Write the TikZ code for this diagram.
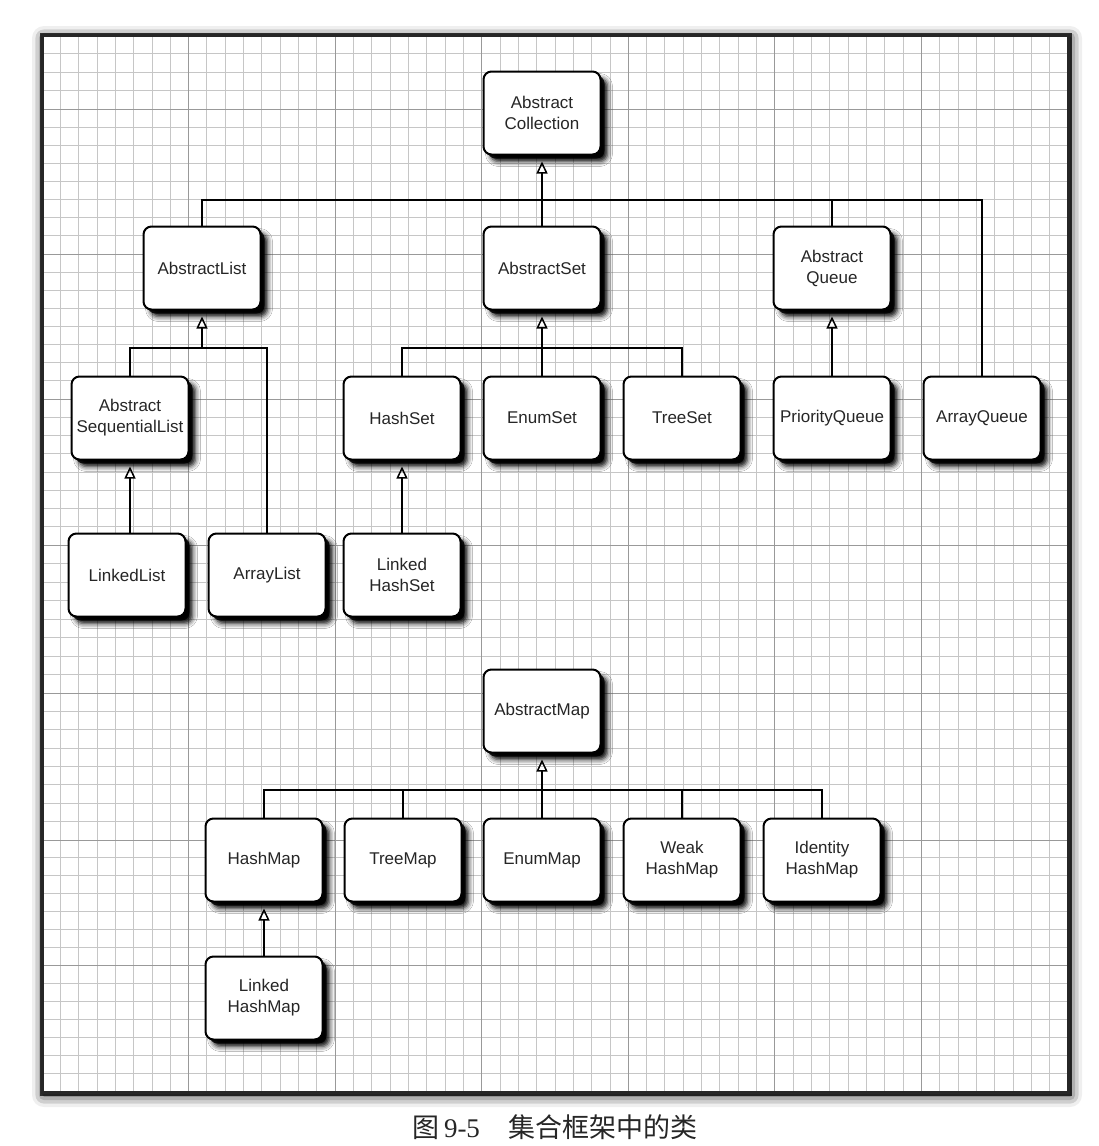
\documentclass[tikz,border=0pt]{standalone}
\usepackage{fontspec}
\setmainfont{Liberation Sans}
\newfontfamily\cjk{Noto Sans CJK SC}
\newfontfamily\capserif{Liberation Serif}
\usetikzlibrary{arrows.meta,positioning,shadows,shadows.blur}

\begin{document}
\begin{tikzpicture}[x=0.5pt,y=-0.5pt]
                \tikzstyle{cls} = [draw, line width=1pt, rounded corners=4pt, fill=white, minimum width=58.5pt, minimum height=41.5pt, inner sep=1pt, align=center, text=black!85, font=\fontsize{8.5}{10.5}\selectfont, blur shadow={shadow xshift=3.5pt, shadow yshift=-3.5pt, shadow blur radius=2.5pt, shadow opacity=100}, drop shadow={shadow xshift=2pt, shadow yshift=-2pt, fill=black, opacity=0.85}]
                \tikzstyle{link} = [line width=0.75pt]
                \tikzstyle{inherit} = [link, -{Triangle[open, length=6pt, width=5.5pt]}, shorten >=3pt]
                \tikzstyle{minor} = [gray!45, line width=0.4pt]
                \tikzstyle{major} = [gray!80, line width=0.5pt]
                \useasboundingbox (0,0) rectangle (1098,1146);

                % paper with grid
                \draw [fill=white, draw=black!85, line width=1.5pt, blur shadow={shadow xshift=1pt, shadow yshift=-1.5pt, shadow blur radius=6pt, shadow opacity=100}, drop shadow={shadow xshift=0.5pt, shadow yshift=-0.5pt, shadow scale=1.006, fill=black, opacity=0.75}] (42,35) rectangle (1068,1092);
                \foreach \x in {1,...,55} \draw [minor] (42+\x*18.32,35) -- (42+\x*18.32,1092);
                \foreach \a/\b/\n in {35/109/4, 109/254/8, 254/399/8, 399/545/8, 545/693/8, 693/840/8, 840/965/7, 965/1092/7}
                    \foreach \i in {1,...,\n} \draw [minor] (42,{\a+(\b-\a)*\i/\n}) -- (1068,{\a+(\b-\a)*\i/\n});
                \foreach \x in {1,...,6} \draw [major] (42+\x*146.57,35) -- (42+\x*146.57,1092);
                \foreach \y in {109,254,399,545,693,840,965} \draw [major] (42,\y) -- (1068,\y);
                \draw [draw=black!85, line width=1.5pt] (42,35) rectangle (1068,1092);

                % collections
                \node [cls] (coll) at (542,113) {Abstract\\Collection};
                \node [cls, below=35pt of coll] (aset) {AbstractSet};
                \node [cls, left=110.5pt of aset] (alist) {AbstractList};
                \node [cls, right=85.5pt of aset] (aqueue) {Abstract\\Queue};
                \node [cls, below=32.5pt of aset] (enumset) {EnumSet};
                \node [cls, left=10.5pt of enumset] (hashset) {HashSet};
                \node [cls, right=10.5pt of enumset] (treeset) {TreeSet};
                \node [cls, below=32.5pt of aqueue] (prio) {PriorityQueue};
                \node [cls, right=15.5pt of prio] (arrqueue) {ArrayQueue};
                \node [cls, left=76.5pt of hashset] (seqlist) {Abstract\\SequentialList};
                \node [cls, below=36pt of hashset] (lhashset) {Linked\\HashSet};
                \node [cls, left=8pt of lhashset] (arrlist) {ArrayList};
                \node [cls, left=10.5pt of arrlist] (llist) {LinkedList};

                % maps
                \node [cls, below=104pt of enumset] (amap) {AbstractMap};
                \node [cls, below=32pt of amap] (enummap) {EnumMap};
                \node [cls, left=10pt of enummap] (treemap) {TreeMap};
                \node [cls, left=10pt of treemap] (hashmap) {HashMap};
                \node [cls, right=10.5pt of enummap] (weakmap) {Weak\\HashMap};
                \node [cls, right=10.5pt of weakmap] (idmap) {Identity\\HashMap};
                \node [cls, below=26.5pt of hashmap] (lhashmap) {Linked\\HashMap};

                \node [font=\fontsize{13.5}{16}\selectfont, text=black!85] (caption) at (555,1127) {{\cjk 图}\hspace{2.5pt}{\capserif 9-5}\hspace{14.5pt}{\cjk 集合框架中的类}};

                \coordinate (bus1) at (542,200);
                \coordinate (bus2) at (0,348);
                \coordinate (bus3) at (0,790);

                \draw [link] (alist.north) |- (bus1) -| (arrqueue.north);
                \draw [link] (aqueue.north) -- (aqueue.north |- bus1);
                \draw [inherit] (aset.north) -- (coll.south);
                \draw [link] (seqlist.north) |- (arrlist.north |- bus2) -- (arrlist.north);
                \draw [inherit] (alist.south |- bus2) -- (alist.south);
                \draw [link] (hashset.north) |- (treeset.north |- bus2) -- (treeset.north);
                \draw [inherit] (enumset.north) -- (aset.south);
                \draw [inherit] (prio.north) -- (aqueue.south);
                \draw [inherit] (llist.north -| seqlist.south) -- (seqlist.south);
                \draw [inherit] (lhashset.north) -- (hashset.south);
                \draw [link] (hashmap.north) |- (idmap.north |- bus3) -- (idmap.north);
                \draw [link] (treemap.north) -- (treemap.north |- bus3);
                \draw [link] (weakmap.north) -- (weakmap.north |- bus3);
                \draw [inherit] (enummap.north) -- (amap.south);
                \draw [inherit] (lhashmap.north) -- (hashmap.south);
\end{tikzpicture}
\end{document}
